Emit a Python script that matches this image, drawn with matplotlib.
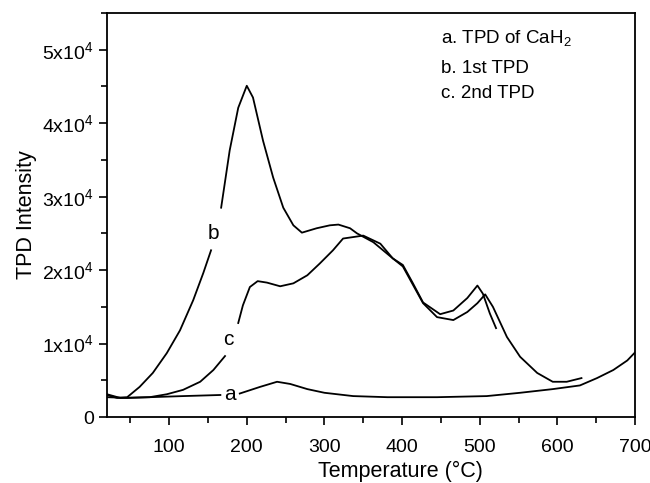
import numpy as np
import matplotlib
matplotlib.use('Agg')
import matplotlib.pyplot as plt
from matplotlib.ticker import MultipleLocator, FuncFormatter

plt.rcParams['font.family'] = ['Liberation Sans', 'DejaVu Sans']
plt.rcParams['mathtext.fontset'] = 'custom'
plt.rcParams['mathtext.rm'] = 'Liberation Sans'

# curve a: TPD of CaH2 (two pieces, gap for the label)
a1_T = [20, 37, 75, 118, 166]
a1_I = [3100, 2600, 2700, 2850, 3000]
a2_T = [191, 217, 239, 256, 278, 300, 337, 381, 445, 509, 552, 594, 629, 651, 672, 690, 700]
a2_I = [3200, 4100, 4800, 4500, 3800, 3300, 2850, 2700, 2700, 2850, 3300, 3800, 4300, 5300, 6400, 7700, 8800]

# curve b: 1st TPD
b1_T = [20, 33, 46, 62, 79, 97, 114, 131, 144, 154]
b1_I = [3000, 2600, 2700, 4100, 6000, 8700, 11800, 15900, 19600, 22700]
b2_T = [167, 178, 189, 200, 208, 221, 234, 247, 260, 271, 290, 307, 318, 333, 342, 363, 388,
        401, 414, 427, 449, 466, 484, 497, 504, 513, 521]
b2_I = [28500, 36300, 42100, 45100, 43500, 37600, 32600, 28500, 26100, 25100, 25700, 26100, 26200,
        25700, 25000, 23800, 21600, 20700, 18200, 15600, 14000, 14500, 16200, 17900, 16800, 14100, 12100]

# curve c: 2nd TPD
c1_T = [20, 46, 75, 97, 118, 140, 157, 172]
c1_I = [2700, 2600, 2700, 3100, 3700, 4800, 6400, 8300]
c2_T = [189, 195, 204, 214, 226, 243, 260, 278, 294, 311, 324, 350, 372, 388, 401, 414, 427,
        445, 466, 484, 497, 507, 517, 535, 552, 574, 594, 612, 631]
c2_I = [12800, 15200, 17700, 18500, 18300, 17800, 18200, 19300, 20900, 22700, 24300, 24700, 23600,
        21600, 20500, 18000, 15500, 13600, 13200, 14300, 15500, 16700, 15000, 10900, 8200, 6000,
        4800, 4800, 5300]

legend_lines = ['a. TPD of CaH$_\\mathregular{2}$', 'b. 1st TPD', 'c. 2nd TPD']

fig = plt.figure(figsize=(6.5, 4.83), dpi=100)
ax = fig.add_axes([0.1646, 0.1366, 0.8124, 0.8364])

for T, I in [(a1_T, a1_I), (a2_T, a2_I), (b1_T, b1_I), (b2_T, b2_I), (c1_T, c1_I), (c2_T, c2_I)]:
    ax.plot(T, I, color='k', lw=1.3)

ax.text(178, 3000, 'a', fontsize=15, ha='center', va='center')
ax.text(157, 25000, 'b', fontsize=15, ha='center', va='center')
ax.text(176, 10500, 'c', fontsize=15, ha='center', va='center')

ys = [51500, 47400, 44000]
for s, y in zip(legend_lines, ys):
    ax.text(450, y, s, fontsize=13.5, ha='left', va='center')

ax.set_xlim(20, 700)
ax.set_ylim(0, 55000)
ax.xaxis.set_major_locator(MultipleLocator(100))
ax.xaxis.set_minor_locator(MultipleLocator(50))
ax.yaxis.set_major_locator(MultipleLocator(10000))
ax.yaxis.set_minor_locator(MultipleLocator(5000))

def yfmt(v, pos):
    if v == 0:
        return '0'
    return r'$\mathregular{%dx10^4}$' % round(v / 10000)

ax.yaxis.set_major_formatter(FuncFormatter(yfmt))
ax.tick_params(which='major', direction='out', length=6, width=1.2, labelsize=14)
ax.tick_params(axis='x', which='major', pad=10)
ax.tick_params(which='minor', direction='out', length=4, width=1.2)
for sp in ax.spines.values():
    sp.set_linewidth(1.3)

ax.set_xlabel('Temperature (°C)', fontsize=15.5)
ax.xaxis.set_label_coords(0.555, -0.108)
ax.set_ylabel('TPD Intensity', fontsize=15.5, labelpad=4)

fig.savefig('out.png', dpi=100)
